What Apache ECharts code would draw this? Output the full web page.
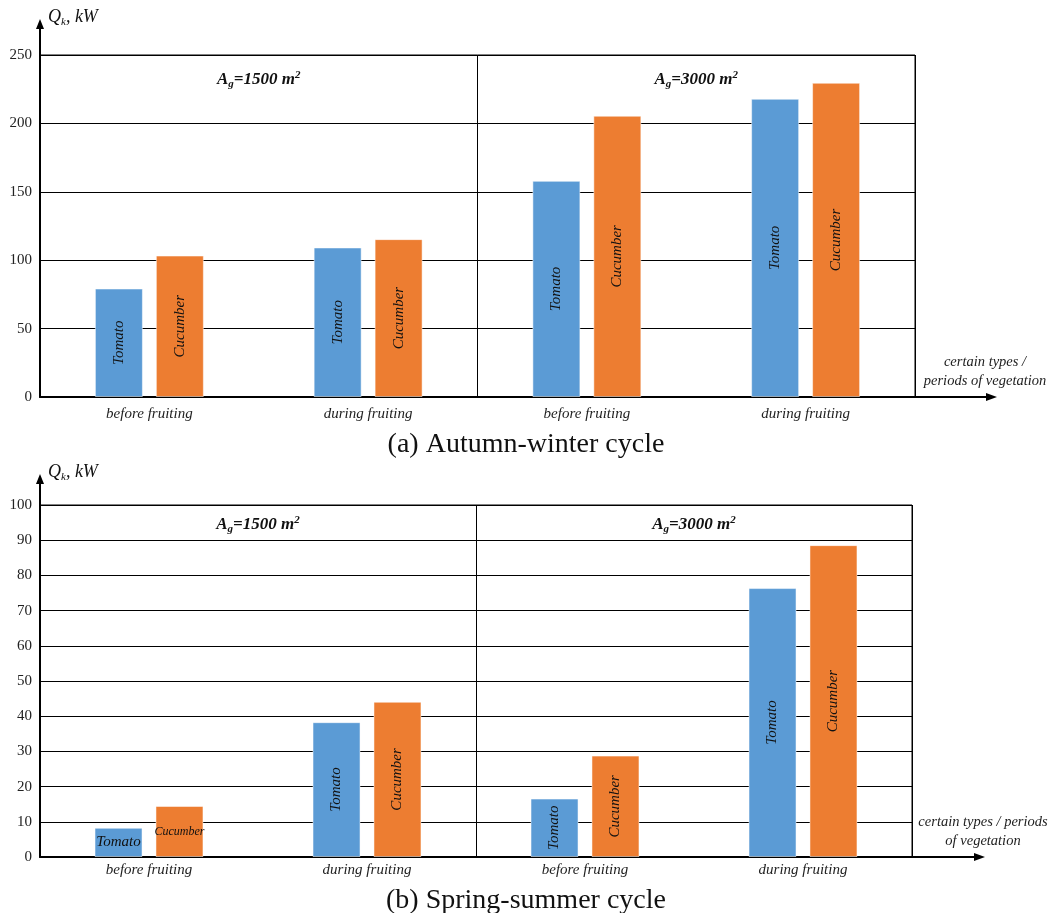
<!DOCTYPE html>
<html>
<head>
<meta charset="utf-8">
<title>Q_k by vegetation period</title>
<script src="https://cdn.jsdelivr.net/npm/echarts@6/dist/echarts.min.js"></script>
<style>
  html, body { margin: 0; padding: 0; background: #fff; }
  #chart { width: 1052px; height: 913px; }
</style>
</head>
<body>
<div id="chart"></div>
<script>
// categories (vegetation periods) and greenhouse areas
const periods = ['before fruiting', 'during fruiting', 'before fruiting', 'during fruiting'];
const areas = ['1500', '3000'];
const crops = ['Tomato', 'Cucumber'];

// (a) Autumn-winter cycle, kW
const awTomato = [79.3, 109.3, 158, 218];
const awCucumber = [103.4, 115.4, 205.6, 229.7];

// (b) Spring-summer cycle, kW
const ssTomato = [8.3, 38.3, 16.6, 76.4];
const ssCucumber = [14.5, 44.1, 28.8, 88.6];

// y ticks
const awTicks = { min: 0, max: 250, interval: 50 };
const ssTicks = { min: 0, max: 100, interval: 10 };

const SERIF = 'Liberation Serif';
const BLUE = '#5b9bd5';
const ORANGE = '#ed7d31';

// layout of the two plot boxes
const boxes = [
  { left: 40, right: 915, top: 55, bottom: 397, arrowTop: 19, arrowRight: 997 },
  { left: 40, right: 912, top: 505, bottom: 857, arrowTop: 474, arrowRight: 985 }
];

const chart = echarts.init(document.getElementById('chart'));

// bars that are too short get a horizontal label
function barData(values, name, axisMax) {
  return values.map(v => {
    if (v / axisMax >= 0.16) return v;
    const fs = Math.min(15, Math.floor(46 / (name.length * 0.46)));
    return { value: v, label: { rotate: 0, fontSize: fs } };
  });
}

const groupRich = {
  b: { fontFamily: SERIF, fontSize: 17, fontWeight: 'bold', fontStyle: 'italic', color: '#111', verticalAlign: 'middle', lineHeight: 20 },
  s: { fontFamily: SERIF, fontSize: 11, fontWeight: 'bold', fontStyle: 'italic', color: '#111', verticalAlign: 'bottom', lineHeight: 20 },
  p: { fontFamily: SERIF, fontSize: 11, fontWeight: 'bold', fontStyle: 'italic', color: '#111', verticalAlign: 'top', lineHeight: 20 }
};

const nameRich = {
  i: { fontFamily: SERIF, fontSize: 18, fontStyle: 'italic', color: '#111', verticalAlign: 'middle', lineHeight: 22 },
  s: { fontFamily: SERIF, fontSize: 11, fontStyle: 'italic', color: '#111', verticalAlign: 'bottom', lineHeight: 20 }
};

function grid(b) {
  return {
    left: b.left, width: b.right - b.left, top: b.top, height: b.bottom - b.top,
    show: true, borderColor: '#000', borderWidth: 1, backgroundColor: 'transparent'
  };
}

function categoryAxis(gi, margin, nameGap, nameLines) {
  return {
    type: 'category', gridIndex: gi, data: periods,
    axisLine: { show: true, lineStyle: { color: '#000', width: 2 } },
    axisTick: { show: false },
    axisLabel: { margin: margin, fontFamily: SERIF, fontStyle: 'italic', fontSize: 15, color: '#222' },
    name: nameLines, nameLocation: 'end', nameGap: nameGap,
    nameTextStyle: { fontFamily: SERIF, fontStyle: 'italic', fontSize: 14.5, color: '#222', align: 'center', verticalAlign: 'bottom', lineHeight: 19, padding: [0, 0, 6, 0] }
  };
}

function groupAxis(gi, margin) {
  return {
    type: 'category', gridIndex: gi, position: 'top', data: areas,
    axisLine: { show: false }, axisTick: { show: false },
    splitLine: { show: true, lineStyle: { color: '#000', width: 1 } },
    axisLabel: {
      inside: true, margin: margin,
      formatter: a => '{b|A}{s|g}{b|=' + a + ' m}{p|2}',
      rich: groupRich
    }
  };
}

function valueAxis(gi, t, nameGap) {
  return {
    type: 'value', gridIndex: gi, min: t.min, max: t.max, interval: t.interval,
    axisLine: { show: true, lineStyle: { color: '#000', width: 2 } },
    axisTick: { show: false },
    axisLabel: { margin: 8, fontFamily: SERIF, fontSize: 15, color: '#222' },
    splitLine: { show: true, lineStyle: { color: '#000', width: 1 } },
    name: '{i|Q}{s|k}{i|, kW}', nameLocation: 'end', nameGap: nameGap,
    nameTextStyle: { align: 'left', verticalAlign: 'middle', padding: [0, 0, 0, 8], rich: nameRich }
  };
}

function barSeries(name, values, xi, yi, color, axisMax) {
  return {
    type: 'bar', name: name, xAxisIndex: xi, yAxisIndex: yi,
    data: barData(values, name, axisMax),
    barWidth: 48, barGap: '27%',
    itemStyle: { color: color, borderColor: 'rgba(255,255,255,0.5)', borderWidth: 1 },
    label: {
      show: true, position: 'inside', formatter: name, rotate: 90,
      fontFamily: SERIF, fontStyle: 'italic', fontSize: 15, color: '#111'
    }
  };
}

// extended axis lines with arrow heads
function arrows(b) {
  const st = { stroke: '#000', lineWidth: 2 };
  return [
    { type: 'line', shape: { x1: b.left, y1: b.top, x2: b.left, y2: b.arrowTop + 6 }, style: st, z: 10 },
    { type: 'polygon', shape: { points: [[b.left, b.arrowTop], [b.left - 4, b.arrowTop + 10], [b.left + 4, b.arrowTop + 10]] }, style: { fill: '#000' }, z: 10 },
    { type: 'line', shape: { x1: b.right, y1: b.bottom, x2: b.arrowRight - 6, y2: b.bottom }, style: st, z: 10 },
    { type: 'polygon', shape: { points: [[b.arrowRight, b.bottom], [b.arrowRight - 11, b.bottom - 4], [b.arrowRight - 11, b.bottom + 4]] }, style: { fill: '#000' }, z: 10 }
  ];
}

const option = {
  animation: false,
  backgroundColor: '#fff',
  title: [
    { text: '(a) Autumn-winter cycle', left: 'center', top: 426, textStyle: { fontFamily: SERIF, fontSize: 28, fontWeight: 'normal', color: '#111' } },
    { text: '(b) Spring-summer cycle', left: 'center', top: 882, textStyle: { fontFamily: SERIF, fontSize: 28, fontWeight: 'normal', color: '#111' } }
  ],
  grid: [grid(boxes[0]), grid(boxes[1])],
  xAxis: [
    categoryAxis(0, 10, 70, 'certain types /\nperiods of vegetation'),
    groupAxis(0, 15),
    categoryAxis(1, 6, 71, 'certain types / periods\nof vegetation'),
    groupAxis(1, 10)
  ],
  yAxis: [
    valueAxis(0, awTicks, 38),
    valueAxis(1, ssTicks, 33)
  ],
  series: [
    barSeries(crops[0], awTomato, 0, 0, BLUE, awTicks.max),
    barSeries(crops[1], awCucumber, 0, 0, ORANGE, awTicks.max),
    barSeries(crops[0], ssTomato, 2, 1, BLUE, ssTicks.max),
    barSeries(crops[1], ssCucumber, 2, 1, ORANGE, ssTicks.max)
  ],
  graphic: arrows(boxes[0]).concat(arrows(boxes[1]))
};

chart.setOption(option);
</script>
</body>
</html>
